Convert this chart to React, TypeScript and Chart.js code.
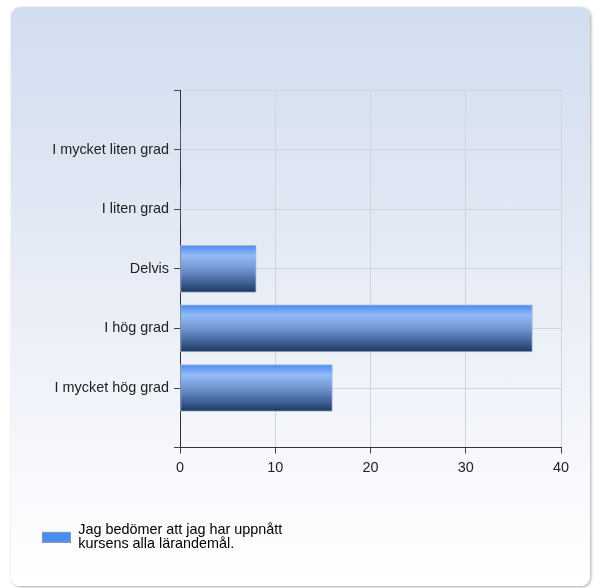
import React, { useEffect, useRef } from 'react';
import { Chart, registerables } from 'chart.js';

Chart.register(...registerables);

const categories = ['I mycket liten grad', 'I liten grad', 'Delvis', 'I hög grad', 'I mycket hög grad'];
const values = [0, 0, 8, 37, 16];
const seriesLabel = ['Jag bedömer att jag har uppnått', 'kursens alla lärandemål.'];
const xTicks = [0, 10, 20, 30, 40];

const FONT = '"Liberation Sans", Arial, sans-serif';
const FS = 14.4;

function makeLegendMarker(): HTMLCanvasElement {
  // legend swatch, drawn lower than the first text line so it sits between both lines
  const c = document.createElement('canvas');
  c.width = 29;
  c.height = 26;
  const g = c.getContext('2d')!;
  g.fillStyle = '#4b8ef2';
  g.fillRect(0, 15, 29, 11);
  g.strokeStyle = '#8a98aa';
  g.lineWidth = 1;
  g.strokeRect(0.5, 15.5, 28, 10);
  return c;
}

export default function App() {
  const ref = useRef<HTMLCanvasElement>(null);

  useEffect(() => {
    const canvas = ref.current;
    if (!canvas) return;
    Chart.defaults.font.family = FONT;
    const labels = ['', ...categories, ''];
    const data: (number | null)[] = [null, ...values, null];
    const BAR = 47;
    const marker = makeLegendMarker();

    const chart = new Chart(canvas, {
      type: 'bar',
      data: {
        labels,
        datasets: [
          {
            label: seriesLabel.join(' '),
            data,
            barThickness: BAR,
            borderColor: '#a4b6d2',
            borderWidth: (ctx: any) => (ctx.raw ? 1 : 0),
            borderSkipped: false,
            backgroundColor: (ctx: any) => {
              const ch = ctx.chart;
              const ys = ch.scales && ch.scales.y;
              if (!ys || ctx.type !== 'data') return '#4a8ef0';
              const c = ys.getPixelForValue(ctx.dataIndex);
              const g = ch.ctx.createLinearGradient(0, c - BAR / 2, 0, c + BAR / 2);
              g.addColorStop(0, '#4a8af0');
              g.addColorStop(0.22, '#93bbf7');
              g.addColorStop(0.5, '#7196d0');
              g.addColorStop(0.78, '#41639a');
              g.addColorStop(1, '#1e365f');
              return g;
            },
          } as any,
        ],
      },
      options: {
        indexAxis: 'y',
        responsive: false,
        animation: false,
        layout: { padding: { left: 21, top: 83, right: 29, bottom: 39 } },
        scales: {
          x: {
            min: xTicks[0],
            max: xTicks[xTicks.length - 1],
            afterBuildTicks: (s: any) => {
              s.ticks = xTicks.map((v) => ({ value: v }));
            },
            ticks: { color: '#222', font: { size: FS }, padding: 6 },
            grid: { color: '#d0d4dd', tickColor: '#444', tickLength: 6 },
            border: { color: '#333' },
            afterFit: (s: any) => {
              s.height = 65;
            },
          },
          y: {
            offset: false,
            grid: { color: '#d0d4dd', tickColor: '#444', tickLength: 6, offset: false },
            border: { color: '#333' },
            ticks: { color: '#222', font: { size: FS }, padding: 5, autoSkip: false },
            afterFit: (s: any) => {
              s.width = 148;
            },
          },
        },
        plugins: {
          legend: {
            position: 'bottom',
            align: 'start',
            labels: {
              boxWidth: 29,
              boxHeight: 11,
              usePointStyle: true,
              pointStyleWidth: 29,
              color: '#222',
              font: { size: FS, lineHeight: 14 / FS },
              generateLabels: () => [
                {
                  text: seriesLabel as any,
                  fillStyle: '#4b8ef2',
                  strokeStyle: '#8a98aa',
                  lineWidth: 0,
                  pointStyle: marker,
                  datasetIndex: 0,
                  hidden: false,
                } as any,
              ],
            },
          },
          tooltip: { enabled: false },
        },
      } as any,
      plugins: [
        {
          id: 'legendRoom',
          afterLayout: (ch: any) => {
            const l = ch.legend;
            if (l) {
              l.bottom += 24;
              l.height += 24;
            }
          },
        },
      ],
    });
    return () => chart.destroy();
  }, []);

  return (
    <div style={{ position: 'absolute', left: 0, top: 0, width: 594, height: 588, background: '#ffffff' }}>
      <div
        style={{
          position: 'absolute',
          left: 11,
          top: 7,
          width: 579,
          height: 579,
          borderRadius: 9,
          background: 'linear-gradient(to bottom, #d1ddf0 0%, #dfe6f3 30%, #edf1f8 60%, #f8f9fd 82%, #ffffff 100%)',
          boxShadow: '1px 1px 3px rgba(0,0,0,0.35)',
          overflow: 'hidden',
        }}
      >
        <canvas ref={ref} width={579} height={579} style={{ display: 'block', width: 579, height: 579 }} />
      </div>
    </div>
  );
}
